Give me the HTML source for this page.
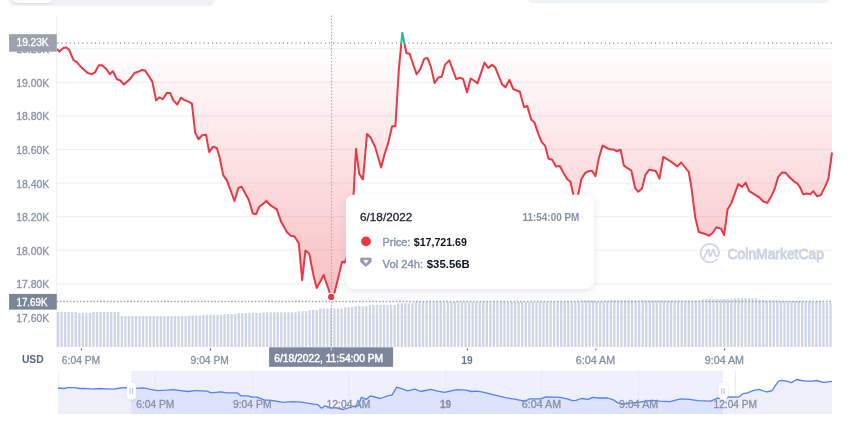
<!DOCTYPE html>
<html><head><meta charset="utf-8"><title>Chart</title>
<style>
html,body{margin:0;padding:0;background:#fff;width:850px;height:426px;overflow:hidden;}
svg{display:block;font-family:"Liberation Sans", sans-serif;will-change:transform;}
</style></head><body>
<svg width="850" height="426" viewBox="0 0 850 426">
<defs>
<linearGradient id="rg" x1="0" y1="43.6" x2="0" y2="297" gradientUnits="userSpaceOnUse">
<stop offset="0" stop-color="#EA3943" stop-opacity="0.0"/>
<stop offset="1" stop-color="#EA3943" stop-opacity="0.32"/>
</linearGradient>
<linearGradient id="gg" x1="0" y1="43.6" x2="0" y2="30" gradientUnits="userSpaceOnUse">
<stop offset="0" stop-color="#16C784" stop-opacity="0.0"/>
<stop offset="1" stop-color="#16C784" stop-opacity="0.3"/>
</linearGradient>
<clipPath id="below"><rect x="0" y="43.6" width="850" height="400"/></clipPath>
<clipPath id="above"><rect x="0" y="0" width="850" height="43.6"/></clipPath>
<filter id="sh" x="-20%" y="-30%" width="140%" height="160%">
<feDropShadow dx="0" dy="2.5" stdDeviation="3.5" flood-color="#58667E" flood-opacity="0.16"/>
</filter>
<filter id="sh2" x="-50%" y="-50%" width="200%" height="200%">
<feDropShadow dx="0" dy="0.4" stdDeviation="0.9" flood-color="#000" flood-opacity="0.15"/>
</filter>
</defs>

<rect x="8.5" y="-10" width="206.5" height="15.8" rx="6" fill="#EFF2F5"/>
<rect x="13.4" y="-10" width="39.2" height="12.9" rx="5" fill="#fff" filter="url(#sh2)"/>
<rect x="527.0" y="-10" width="303.4" height="12.9" rx="6" fill="#EFF2F5"/>
<line x1="57" y1="48.7" x2="832.5" y2="48.7" stroke="#EFF2F5" stroke-width="1.2"/>
<line x1="57" y1="82.3" x2="832.5" y2="82.3" stroke="#EFF2F5" stroke-width="1.2"/>
<line x1="57" y1="115.9" x2="832.5" y2="115.9" stroke="#EFF2F5" stroke-width="1.2"/>
<line x1="57" y1="149.5" x2="832.5" y2="149.5" stroke="#EFF2F5" stroke-width="1.2"/>
<line x1="57" y1="183.1" x2="832.5" y2="183.1" stroke="#EFF2F5" stroke-width="1.2"/>
<line x1="57" y1="216.7" x2="832.5" y2="216.7" stroke="#EFF2F5" stroke-width="1.2"/>
<line x1="57" y1="250.2" x2="832.5" y2="250.2" stroke="#EFF2F5" stroke-width="1.2"/>
<line x1="57" y1="283.8" x2="832.5" y2="283.8" stroke="#EFF2F5" stroke-width="1.2"/>
<line x1="57" y1="317.4" x2="832.5" y2="317.4" stroke="#EFF2F5" stroke-width="1.2"/>
<line x1="56.6" y1="16" x2="56.6" y2="347.5" stroke="#EFF2F5" stroke-width="1.2"/>
<path d="M56.90 312.0h2.3V346.9h-2.3zM60.44 312.0h2.3V346.9h-2.3zM63.99 312.0h2.3V346.9h-2.3zM67.53 312.0h2.3V346.9h-2.3zM71.07 312.0h2.3V346.9h-2.3zM74.62 312.0h2.3V346.9h-2.3zM78.16 312.9h2.3V346.9h-2.3zM81.70 312.9h2.3V346.9h-2.3zM85.25 312.9h2.3V346.9h-2.3zM88.79 312.9h2.3V346.9h-2.3zM92.33 312.0h2.3V346.9h-2.3zM95.88 312.0h2.3V346.9h-2.3zM99.42 312.0h2.3V346.9h-2.3zM102.96 312.0h2.3V346.9h-2.3zM106.51 312.0h2.3V346.9h-2.3zM110.05 312.0h2.3V346.9h-2.3zM113.59 312.0h2.3V346.9h-2.3zM117.14 312.0h2.3V346.9h-2.3zM120.68 316.3h2.3V346.9h-2.3zM124.22 316.3h2.3V346.9h-2.3zM127.77 316.3h2.3V346.9h-2.3zM131.31 316.3h2.3V346.9h-2.3zM134.85 316.3h2.3V346.9h-2.3zM138.40 316.3h2.3V346.9h-2.3zM141.94 316.3h2.3V346.9h-2.3zM145.48 316.3h2.3V346.9h-2.3zM149.03 316.3h2.3V346.9h-2.3zM152.57 316.3h2.3V346.9h-2.3zM156.11 316.3h2.3V346.9h-2.3zM159.66 316.3h2.3V346.9h-2.3zM163.20 316.3h2.3V346.9h-2.3zM166.74 316.3h2.3V346.9h-2.3zM170.29 316.3h2.3V346.9h-2.3zM173.83 316.3h2.3V346.9h-2.3zM177.37 316.3h2.3V346.9h-2.3zM180.92 316.3h2.3V346.9h-2.3zM184.46 316.3h2.3V346.9h-2.3zM188.01 315.6h2.3V346.9h-2.3zM191.55 315.6h2.3V346.9h-2.3zM195.09 315.6h2.3V346.9h-2.3zM198.64 315.6h2.3V346.9h-2.3zM202.18 314.7h2.3V346.9h-2.3zM205.72 314.7h2.3V346.9h-2.3zM209.27 314.7h2.3V346.9h-2.3zM212.81 314.7h2.3V346.9h-2.3zM216.35 314.7h2.3V346.9h-2.3zM219.90 314.7h2.3V346.9h-2.3zM223.44 314.0h2.3V346.9h-2.3zM226.98 314.0h2.3V346.9h-2.3zM230.53 314.0h2.3V346.9h-2.3zM234.07 314.0h2.3V346.9h-2.3zM237.61 313.1h2.3V346.9h-2.3zM241.16 313.1h2.3V346.9h-2.3zM244.70 313.1h2.3V346.9h-2.3zM248.24 313.1h2.3V346.9h-2.3zM251.79 313.1h2.3V346.9h-2.3zM255.33 313.1h2.3V346.9h-2.3zM258.87 313.1h2.3V346.9h-2.3zM262.42 312.2h2.3V346.9h-2.3zM265.96 312.2h2.3V346.9h-2.3zM269.50 312.2h2.3V346.9h-2.3zM273.05 312.2h2.3V346.9h-2.3zM276.59 312.2h2.3V346.9h-2.3zM280.13 312.2h2.3V346.9h-2.3zM283.68 312.2h2.3V346.9h-2.3zM287.22 312.2h2.3V346.9h-2.3zM290.76 312.2h2.3V346.9h-2.3zM294.31 312.2h2.3V346.9h-2.3zM297.85 311.2h2.3V346.9h-2.3zM301.39 311.2h2.3V346.9h-2.3zM304.94 311.2h2.3V346.9h-2.3zM308.48 310.0h2.3V346.9h-2.3zM312.02 310.0h2.3V346.9h-2.3zM315.57 310.0h2.3V346.9h-2.3zM319.11 308.5h2.3V346.9h-2.3zM322.65 308.5h2.3V346.9h-2.3zM326.20 308.5h2.3V346.9h-2.3zM329.74 308.5h2.3V346.9h-2.3zM333.28 308.5h2.3V346.9h-2.3zM336.83 308.5h2.3V346.9h-2.3zM340.37 308.5h2.3V346.9h-2.3zM343.91 307.2h2.3V346.9h-2.3zM347.46 307.2h2.3V346.9h-2.3zM351.00 307.2h2.3V346.9h-2.3zM354.54 306.2h2.3V346.9h-2.3zM358.09 306.2h2.3V346.9h-2.3zM361.63 306.2h2.3V346.9h-2.3zM365.17 306.2h2.3V346.9h-2.3zM368.72 305.0h2.3V346.9h-2.3zM372.26 305.0h2.3V346.9h-2.3zM375.80 305.0h2.3V346.9h-2.3zM379.35 305.0h2.3V346.9h-2.3zM382.89 305.0h2.3V346.9h-2.3zM386.43 305.0h2.3V346.9h-2.3zM389.98 305.0h2.3V346.9h-2.3zM393.52 305.0h2.3V346.9h-2.3zM397.06 303.2h2.3V346.9h-2.3zM400.61 303.2h2.3V346.9h-2.3zM404.15 303.2h2.3V346.9h-2.3zM407.69 303.2h2.3V346.9h-2.3zM411.24 303.2h2.3V346.9h-2.3zM414.78 302.0h2.3V346.9h-2.3zM418.32 302.0h2.3V346.9h-2.3zM421.87 302.0h2.3V346.9h-2.3zM425.41 302.0h2.3V346.9h-2.3zM428.95 302.0h2.3V346.9h-2.3zM432.50 302.0h2.3V346.9h-2.3zM436.04 302.0h2.3V346.9h-2.3zM439.58 302.0h2.3V346.9h-2.3zM443.13 302.0h2.3V346.9h-2.3zM446.67 302.0h2.3V346.9h-2.3zM450.22 302.0h2.3V346.9h-2.3zM453.76 302.0h2.3V346.9h-2.3zM457.30 302.0h2.3V346.9h-2.3zM460.85 302.0h2.3V346.9h-2.3zM464.39 302.0h2.3V346.9h-2.3zM467.93 302.0h2.3V346.9h-2.3zM471.48 302.0h2.3V346.9h-2.3zM475.02 302.0h2.3V346.9h-2.3zM478.56 302.0h2.3V346.9h-2.3zM482.11 302.0h2.3V346.9h-2.3zM485.65 302.0h2.3V346.9h-2.3zM489.19 302.0h2.3V346.9h-2.3zM492.74 302.0h2.3V346.9h-2.3zM496.28 302.0h2.3V346.9h-2.3zM499.82 302.0h2.3V346.9h-2.3zM503.37 302.0h2.3V346.9h-2.3zM506.91 302.0h2.3V346.9h-2.3zM510.45 302.0h2.3V346.9h-2.3zM514.00 302.0h2.3V346.9h-2.3zM517.54 302.0h2.3V346.9h-2.3zM521.08 302.0h2.3V346.9h-2.3zM524.63 302.0h2.3V346.9h-2.3zM528.17 302.0h2.3V346.9h-2.3zM531.71 302.0h2.3V346.9h-2.3zM535.26 302.0h2.3V346.9h-2.3zM538.80 302.0h2.3V346.9h-2.3zM542.34 302.0h2.3V346.9h-2.3zM545.89 302.0h2.3V346.9h-2.3zM549.43 302.0h2.3V346.9h-2.3zM552.97 302.0h2.3V346.9h-2.3zM556.52 302.0h2.3V346.9h-2.3zM560.06 302.0h2.3V346.9h-2.3zM563.60 302.0h2.3V346.9h-2.3zM567.15 302.0h2.3V346.9h-2.3zM570.69 302.0h2.3V346.9h-2.3zM574.23 302.0h2.3V346.9h-2.3zM577.78 302.0h2.3V346.9h-2.3zM581.32 300.6h2.3V346.9h-2.3zM584.86 300.6h2.3V346.9h-2.3zM588.41 300.6h2.3V346.9h-2.3zM591.95 300.6h2.3V346.9h-2.3zM595.49 301.5h2.3V346.9h-2.3zM599.04 301.5h2.3V346.9h-2.3zM602.58 301.5h2.3V346.9h-2.3zM606.12 301.5h2.3V346.9h-2.3zM609.67 300.2h2.3V346.9h-2.3zM613.21 300.2h2.3V346.9h-2.3zM616.75 300.2h2.3V346.9h-2.3zM620.30 300.2h2.3V346.9h-2.3zM623.84 300.2h2.3V346.9h-2.3zM627.38 300.2h2.3V346.9h-2.3zM630.93 300.6h2.3V346.9h-2.3zM634.47 300.6h2.3V346.9h-2.3zM638.01 300.6h2.3V346.9h-2.3zM641.56 300.6h2.3V346.9h-2.3zM645.10 300.6h2.3V346.9h-2.3zM648.64 300.6h2.3V346.9h-2.3zM652.19 300.6h2.3V346.9h-2.3zM655.73 300.6h2.3V346.9h-2.3zM659.27 300.6h2.3V346.9h-2.3zM662.82 300.6h2.3V346.9h-2.3zM666.36 300.6h2.3V346.9h-2.3zM669.90 300.6h2.3V346.9h-2.3zM673.45 300.6h2.3V346.9h-2.3zM676.99 300.6h2.3V346.9h-2.3zM680.53 300.6h2.3V346.9h-2.3zM684.08 300.6h2.3V346.9h-2.3zM687.62 300.6h2.3V346.9h-2.3zM691.16 300.6h2.3V346.9h-2.3zM694.71 300.6h2.3V346.9h-2.3zM698.25 300.6h2.3V346.9h-2.3zM701.79 299.3h2.3V346.9h-2.3zM705.34 299.3h2.3V346.9h-2.3zM708.88 299.3h2.3V346.9h-2.3zM712.43 299.3h2.3V346.9h-2.3zM715.97 299.3h2.3V346.9h-2.3zM719.51 299.3h2.3V346.9h-2.3zM723.06 299.3h2.3V346.9h-2.3zM726.60 299.3h2.3V346.9h-2.3zM730.14 299.3h2.3V346.9h-2.3zM733.69 298.2h2.3V346.9h-2.3zM737.23 298.2h2.3V346.9h-2.3zM740.77 298.2h2.3V346.9h-2.3zM744.32 298.2h2.3V346.9h-2.3zM747.86 298.2h2.3V346.9h-2.3zM751.40 298.2h2.3V346.9h-2.3zM754.95 298.2h2.3V346.9h-2.3zM758.49 299.7h2.3V346.9h-2.3zM762.03 299.7h2.3V346.9h-2.3zM765.58 300.6h2.3V346.9h-2.3zM769.12 300.6h2.3V346.9h-2.3zM772.66 300.6h2.3V346.9h-2.3zM776.21 300.6h2.3V346.9h-2.3zM779.75 301.1h2.3V346.9h-2.3zM783.29 301.1h2.3V346.9h-2.3zM786.84 301.1h2.3V346.9h-2.3zM790.38 301.1h2.3V346.9h-2.3zM793.92 301.1h2.3V346.9h-2.3zM797.47 301.1h2.3V346.9h-2.3zM801.01 301.5h2.3V346.9h-2.3zM804.55 301.5h2.3V346.9h-2.3zM808.10 301.5h2.3V346.9h-2.3zM811.64 301.5h2.3V346.9h-2.3zM815.18 301.5h2.3V346.9h-2.3zM818.73 301.5h2.3V346.9h-2.3zM822.27 302.7h2.3V346.9h-2.3zM825.81 302.7h2.3V346.9h-2.3zM829.36 302.7h2.3V346.9h-2.3z" fill="#CED5E4"/>
<polygon points="57.0,43.6 57.0,49.0 59.4,51.6 63.6,47.8 66.4,47.6 69.2,50.0 73.5,60.0 77.0,62.4 80.5,66.4 87.6,73.0 91.8,74.1 95.0,72.3 98.8,65.2 102.1,65.2 105.9,68.7 109.9,74.1 112.9,71.3 116.9,79.3 120.4,80.5 123.9,84.5 129.8,79.3 134.5,73.0 138.0,71.8 142.0,69.9 145.0,70.4 148.6,75.8 152.3,81.6 156.1,100.4 159.2,97.4 162.7,99.2 166.9,92.9 170.2,92.9 173.2,100.0 177.2,104.6 181.0,97.7 184.1,99.8 188.5,101.7 191.9,103.6 195.1,132.4 198.4,139.3 202.2,135.2 206.0,134.8 209.2,152.1 212.9,146.8 216.7,148.0 219.5,156.8 223.2,175.1 226.9,180.3 234.5,201.0 238.2,188.2 241.6,186.7 248.6,199.5 252.9,213.6 256.1,214.2 259.3,206.7 266.5,201.0 270.2,205.2 276.8,209.3 281.2,222.1 287.2,232.5 290.9,235.7 294.6,236.4 298.8,243.5 302.2,280.2 305.4,250.5 309.2,253.5 313.5,275.5 316.7,288.1 323.7,275.0 329.3,291.5 331.2,297.0 334.6,292.5 342.1,261.8 344.9,262.4 349.0,250.0 352.0,225.0 356.0,148.8 359.2,173.9 363.0,179.3 367.0,134.0 370.5,137.5 375.2,146.9 381.1,167.6 384.6,154.0 388.1,143.4 392.1,126.3 395.4,126.3 398.8,70.2 402.3,32.8 404.5,43.8 406.4,53.2 409.7,53.8 413.5,65.5 416.7,74.3 420.5,68.7 424.2,58.9 427.4,57.9 430.8,66.4 434.6,83.0 438.7,77.3 441.7,76.8 444.9,64.9 449.3,60.4 456.2,79.0 460.0,77.7 463.2,79.2 467.0,92.4 470.7,78.6 474.1,80.5 477.5,83.4 484.5,62.6 488.2,67.9 492.0,64.9 495.2,67.4 502.2,84.6 505.6,87.2 509.4,80.0 513.2,89.0 519.8,91.7 524.1,107.3 527.3,106.0 531.1,119.5 534.4,122.4 538.6,134.6 541.8,142.1 545.2,145.9 548.5,158.8 552.2,159.8 556.0,166.4 559.8,166.0 563.5,172.9 567.3,179.2 570.5,181.8 574.0,198.0 577.3,199.0 581.3,179.2 585.2,172.9 588.9,171.1 592.3,171.1 595.5,176.1 598.7,158.8 602.5,145.6 607.8,148.5 610.6,149.4 613.8,149.4 616.8,151.3 620.6,149.8 623.8,165.4 627.5,168.2 631.3,170.5 635.1,188.0 638.3,191.8 642.0,188.6 645.4,174.8 649.2,169.7 655.8,171.1 659.5,178.6 663.3,156.9 671.8,162.2 677.4,166.4 681.2,162.5 688.8,172.0 691.7,189.3 695.2,217.4 698.8,232.0 704.6,233.8 709.3,235.7 712.8,232.7 716.4,227.3 721.1,228.7 724.1,235.0 727.6,209.2 731.1,203.8 738.2,184.1 742.2,186.9 745.7,182.7 749.2,191.1 758.6,196.8 763.3,201.5 767.3,202.9 771.0,196.8 775.0,188.1 778.1,177.1 782.1,172.4 785.6,172.8 790.3,178.0 794.5,181.8 797.3,183.4 799.6,186.5 803.2,194.4 806.7,193.5 810.2,194.4 813.3,191.1 817.2,196.3 820.8,195.1 824.3,188.1 828.3,179.4 832.0,152.5 832.0,43.6" fill="url(#rg)" clip-path="url(#below)"/>
<polygon points="57.0,43.6 57.0,49.0 59.4,51.6 63.6,47.8 66.4,47.6 69.2,50.0 73.5,60.0 77.0,62.4 80.5,66.4 87.6,73.0 91.8,74.1 95.0,72.3 98.8,65.2 102.1,65.2 105.9,68.7 109.9,74.1 112.9,71.3 116.9,79.3 120.4,80.5 123.9,84.5 129.8,79.3 134.5,73.0 138.0,71.8 142.0,69.9 145.0,70.4 148.6,75.8 152.3,81.6 156.1,100.4 159.2,97.4 162.7,99.2 166.9,92.9 170.2,92.9 173.2,100.0 177.2,104.6 181.0,97.7 184.1,99.8 188.5,101.7 191.9,103.6 195.1,132.4 198.4,139.3 202.2,135.2 206.0,134.8 209.2,152.1 212.9,146.8 216.7,148.0 219.5,156.8 223.2,175.1 226.9,180.3 234.5,201.0 238.2,188.2 241.6,186.7 248.6,199.5 252.9,213.6 256.1,214.2 259.3,206.7 266.5,201.0 270.2,205.2 276.8,209.3 281.2,222.1 287.2,232.5 290.9,235.7 294.6,236.4 298.8,243.5 302.2,280.2 305.4,250.5 309.2,253.5 313.5,275.5 316.7,288.1 323.7,275.0 329.3,291.5 331.2,297.0 334.6,292.5 342.1,261.8 344.9,262.4 349.0,250.0 352.0,225.0 356.0,148.8 359.2,173.9 363.0,179.3 367.0,134.0 370.5,137.5 375.2,146.9 381.1,167.6 384.6,154.0 388.1,143.4 392.1,126.3 395.4,126.3 398.8,70.2 402.3,32.8 404.5,43.8 406.4,53.2 409.7,53.8 413.5,65.5 416.7,74.3 420.5,68.7 424.2,58.9 427.4,57.9 430.8,66.4 434.6,83.0 438.7,77.3 441.7,76.8 444.9,64.9 449.3,60.4 456.2,79.0 460.0,77.7 463.2,79.2 467.0,92.4 470.7,78.6 474.1,80.5 477.5,83.4 484.5,62.6 488.2,67.9 492.0,64.9 495.2,67.4 502.2,84.6 505.6,87.2 509.4,80.0 513.2,89.0 519.8,91.7 524.1,107.3 527.3,106.0 531.1,119.5 534.4,122.4 538.6,134.6 541.8,142.1 545.2,145.9 548.5,158.8 552.2,159.8 556.0,166.4 559.8,166.0 563.5,172.9 567.3,179.2 570.5,181.8 574.0,198.0 577.3,199.0 581.3,179.2 585.2,172.9 588.9,171.1 592.3,171.1 595.5,176.1 598.7,158.8 602.5,145.6 607.8,148.5 610.6,149.4 613.8,149.4 616.8,151.3 620.6,149.8 623.8,165.4 627.5,168.2 631.3,170.5 635.1,188.0 638.3,191.8 642.0,188.6 645.4,174.8 649.2,169.7 655.8,171.1 659.5,178.6 663.3,156.9 671.8,162.2 677.4,166.4 681.2,162.5 688.8,172.0 691.7,189.3 695.2,217.4 698.8,232.0 704.6,233.8 709.3,235.7 712.8,232.7 716.4,227.3 721.1,228.7 724.1,235.0 727.6,209.2 731.1,203.8 738.2,184.1 742.2,186.9 745.7,182.7 749.2,191.1 758.6,196.8 763.3,201.5 767.3,202.9 771.0,196.8 775.0,188.1 778.1,177.1 782.1,172.4 785.6,172.8 790.3,178.0 794.5,181.8 797.3,183.4 799.6,186.5 803.2,194.4 806.7,193.5 810.2,194.4 813.3,191.1 817.2,196.3 820.8,195.1 824.3,188.1 828.3,179.4 832.0,152.5 832.0,43.6" fill="url(#gg)" clip-path="url(#above)"/>
<line x1="57" y1="43.1" x2="832.5" y2="43.1" stroke="#A0A7B6" stroke-width="1.8" stroke-dasharray="1 3.18" stroke-dashoffset="-0.3"/>
<line x1="57" y1="301.5" x2="832.5" y2="301.5" stroke="#A2AABB" stroke-width="1.3" stroke-dasharray="1.7 1.66" stroke-dashoffset="0.6"/>
<line x1="331.5" y1="15.6" x2="331.5" y2="346.8" stroke="#A3ACC0" stroke-width="1.15" stroke-dasharray="1.4 1.85"/>
<polyline points="57.0,49.0 59.4,51.6 63.6,47.8 66.4,47.6 69.2,50.0 73.5,60.0 77.0,62.4 80.5,66.4 87.6,73.0 91.8,74.1 95.0,72.3 98.8,65.2 102.1,65.2 105.9,68.7 109.9,74.1 112.9,71.3 116.9,79.3 120.4,80.5 123.9,84.5 129.8,79.3 134.5,73.0 138.0,71.8 142.0,69.9 145.0,70.4 148.6,75.8 152.3,81.6 156.1,100.4 159.2,97.4 162.7,99.2 166.9,92.9 170.2,92.9 173.2,100.0 177.2,104.6 181.0,97.7 184.1,99.8 188.5,101.7 191.9,103.6 195.1,132.4 198.4,139.3 202.2,135.2 206.0,134.8 209.2,152.1 212.9,146.8 216.7,148.0 219.5,156.8 223.2,175.1 226.9,180.3 234.5,201.0 238.2,188.2 241.6,186.7 248.6,199.5 252.9,213.6 256.1,214.2 259.3,206.7 266.5,201.0 270.2,205.2 276.8,209.3 281.2,222.1 287.2,232.5 290.9,235.7 294.6,236.4 298.8,243.5 302.2,280.2 305.4,250.5 309.2,253.5 313.5,275.5 316.7,288.1 323.7,275.0 329.3,291.5 331.2,297.0 334.6,292.5 342.1,261.8 344.9,262.4 349.0,250.0 352.0,225.0 356.0,148.8 359.2,173.9 363.0,179.3 367.0,134.0 370.5,137.5 375.2,146.9 381.1,167.6 384.6,154.0 388.1,143.4 392.1,126.3 395.4,126.3 398.8,70.2 402.3,32.8 404.5,43.8 406.4,53.2 409.7,53.8 413.5,65.5 416.7,74.3 420.5,68.7 424.2,58.9 427.4,57.9 430.8,66.4 434.6,83.0 438.7,77.3 441.7,76.8 444.9,64.9 449.3,60.4 456.2,79.0 460.0,77.7 463.2,79.2 467.0,92.4 470.7,78.6 474.1,80.5 477.5,83.4 484.5,62.6 488.2,67.9 492.0,64.9 495.2,67.4 502.2,84.6 505.6,87.2 509.4,80.0 513.2,89.0 519.8,91.7 524.1,107.3 527.3,106.0 531.1,119.5 534.4,122.4 538.6,134.6 541.8,142.1 545.2,145.9 548.5,158.8 552.2,159.8 556.0,166.4 559.8,166.0 563.5,172.9 567.3,179.2 570.5,181.8 574.0,198.0 577.3,199.0 581.3,179.2 585.2,172.9 588.9,171.1 592.3,171.1 595.5,176.1 598.7,158.8 602.5,145.6 607.8,148.5 610.6,149.4 613.8,149.4 616.8,151.3 620.6,149.8 623.8,165.4 627.5,168.2 631.3,170.5 635.1,188.0 638.3,191.8 642.0,188.6 645.4,174.8 649.2,169.7 655.8,171.1 659.5,178.6 663.3,156.9 671.8,162.2 677.4,166.4 681.2,162.5 688.8,172.0 691.7,189.3 695.2,217.4 698.8,232.0 704.6,233.8 709.3,235.7 712.8,232.7 716.4,227.3 721.1,228.7 724.1,235.0 727.6,209.2 731.1,203.8 738.2,184.1 742.2,186.9 745.7,182.7 749.2,191.1 758.6,196.8 763.3,201.5 767.3,202.9 771.0,196.8 775.0,188.1 778.1,177.1 782.1,172.4 785.6,172.8 790.3,178.0 794.5,181.8 797.3,183.4 799.6,186.5 803.2,194.4 806.7,193.5 810.2,194.4 813.3,191.1 817.2,196.3 820.8,195.1 824.3,188.1 828.3,179.4 832.0,152.5" fill="none" stroke="#EA3943" stroke-width="2" stroke-linejoin="round" clip-path="url(#below)"/>
<polyline points="57.0,49.0 59.4,51.6 63.6,47.8 66.4,47.6 69.2,50.0 73.5,60.0 77.0,62.4 80.5,66.4 87.6,73.0 91.8,74.1 95.0,72.3 98.8,65.2 102.1,65.2 105.9,68.7 109.9,74.1 112.9,71.3 116.9,79.3 120.4,80.5 123.9,84.5 129.8,79.3 134.5,73.0 138.0,71.8 142.0,69.9 145.0,70.4 148.6,75.8 152.3,81.6 156.1,100.4 159.2,97.4 162.7,99.2 166.9,92.9 170.2,92.9 173.2,100.0 177.2,104.6 181.0,97.7 184.1,99.8 188.5,101.7 191.9,103.6 195.1,132.4 198.4,139.3 202.2,135.2 206.0,134.8 209.2,152.1 212.9,146.8 216.7,148.0 219.5,156.8 223.2,175.1 226.9,180.3 234.5,201.0 238.2,188.2 241.6,186.7 248.6,199.5 252.9,213.6 256.1,214.2 259.3,206.7 266.5,201.0 270.2,205.2 276.8,209.3 281.2,222.1 287.2,232.5 290.9,235.7 294.6,236.4 298.8,243.5 302.2,280.2 305.4,250.5 309.2,253.5 313.5,275.5 316.7,288.1 323.7,275.0 329.3,291.5 331.2,297.0 334.6,292.5 342.1,261.8 344.9,262.4 349.0,250.0 352.0,225.0 356.0,148.8 359.2,173.9 363.0,179.3 367.0,134.0 370.5,137.5 375.2,146.9 381.1,167.6 384.6,154.0 388.1,143.4 392.1,126.3 395.4,126.3 398.8,70.2 402.3,32.8 404.5,43.8 406.4,53.2 409.7,53.8 413.5,65.5 416.7,74.3 420.5,68.7 424.2,58.9 427.4,57.9 430.8,66.4 434.6,83.0 438.7,77.3 441.7,76.8 444.9,64.9 449.3,60.4 456.2,79.0 460.0,77.7 463.2,79.2 467.0,92.4 470.7,78.6 474.1,80.5 477.5,83.4 484.5,62.6 488.2,67.9 492.0,64.9 495.2,67.4 502.2,84.6 505.6,87.2 509.4,80.0 513.2,89.0 519.8,91.7 524.1,107.3 527.3,106.0 531.1,119.5 534.4,122.4 538.6,134.6 541.8,142.1 545.2,145.9 548.5,158.8 552.2,159.8 556.0,166.4 559.8,166.0 563.5,172.9 567.3,179.2 570.5,181.8 574.0,198.0 577.3,199.0 581.3,179.2 585.2,172.9 588.9,171.1 592.3,171.1 595.5,176.1 598.7,158.8 602.5,145.6 607.8,148.5 610.6,149.4 613.8,149.4 616.8,151.3 620.6,149.8 623.8,165.4 627.5,168.2 631.3,170.5 635.1,188.0 638.3,191.8 642.0,188.6 645.4,174.8 649.2,169.7 655.8,171.1 659.5,178.6 663.3,156.9 671.8,162.2 677.4,166.4 681.2,162.5 688.8,172.0 691.7,189.3 695.2,217.4 698.8,232.0 704.6,233.8 709.3,235.7 712.8,232.7 716.4,227.3 721.1,228.7 724.1,235.0 727.6,209.2 731.1,203.8 738.2,184.1 742.2,186.9 745.7,182.7 749.2,191.1 758.6,196.8 763.3,201.5 767.3,202.9 771.0,196.8 775.0,188.1 778.1,177.1 782.1,172.4 785.6,172.8 790.3,178.0 794.5,181.8 797.3,183.4 799.6,186.5 803.2,194.4 806.7,193.5 810.2,194.4 813.3,191.1 817.2,196.3 820.8,195.1 824.3,188.1 828.3,179.4 832.0,152.5" fill="none" stroke="#16C784" stroke-width="2" stroke-linejoin="round" clip-path="url(#above)"/>
<circle cx="331.2" cy="297" r="3.8" fill="#EA3943" stroke="#fff" stroke-width="1.3"/>
<text x="49.2" y="53.2" font-size="10.8" fill="#8A94A9" stroke="#8A94A9" stroke-width="0.35" text-anchor="end" textLength="33" lengthAdjust="spacingAndGlyphs">19.20K</text>
<text x="49.2" y="86.8" font-size="10.8" fill="#8A94A9" stroke="#8A94A9" stroke-width="0.35" text-anchor="end" textLength="33" lengthAdjust="spacingAndGlyphs">19.00K</text>
<text x="49.2" y="120.4" font-size="10.8" fill="#8A94A9" stroke="#8A94A9" stroke-width="0.35" text-anchor="end" textLength="33" lengthAdjust="spacingAndGlyphs">18.80K</text>
<text x="49.2" y="154.0" font-size="10.8" fill="#8A94A9" stroke="#8A94A9" stroke-width="0.35" text-anchor="end" textLength="33" lengthAdjust="spacingAndGlyphs">18.60K</text>
<text x="49.2" y="187.6" font-size="10.8" fill="#8A94A9" stroke="#8A94A9" stroke-width="0.35" text-anchor="end" textLength="33" lengthAdjust="spacingAndGlyphs">18.40K</text>
<text x="49.2" y="221.2" font-size="10.8" fill="#8A94A9" stroke="#8A94A9" stroke-width="0.35" text-anchor="end" textLength="33" lengthAdjust="spacingAndGlyphs">18.20K</text>
<text x="49.2" y="254.7" font-size="10.8" fill="#8A94A9" stroke="#8A94A9" stroke-width="0.35" text-anchor="end" textLength="33" lengthAdjust="spacingAndGlyphs">18.00K</text>
<text x="49.2" y="288.3" font-size="10.8" fill="#8A94A9" stroke="#8A94A9" stroke-width="0.35" text-anchor="end" textLength="33" lengthAdjust="spacingAndGlyphs">17.80K</text>
<text x="49.2" y="321.9" font-size="10.8" fill="#8A94A9" stroke="#8A94A9" stroke-width="0.35" text-anchor="end" textLength="33" lengthAdjust="spacingAndGlyphs">17.60K</text>
<rect x="9.1" y="34.2" width="47.7" height="17.5" fill="#9BA1AE"/>
<text x="16.5" y="46.0" font-size="10.3" fill="#fff" stroke="#fff" stroke-width="0.35" textLength="32.1" lengthAdjust="spacingAndGlyphs">19.23K</text>
<rect x="9.1" y="293.9" width="47.7" height="15.7" fill="#7C869B"/>
<text x="16.5" y="305.9" font-size="10.3" fill="#fff" stroke="#fff" stroke-width="0.35" textLength="30.9" lengthAdjust="spacingAndGlyphs">17.69K</text>
<g fill="none" stroke="#CFD5E4" stroke-width="1.8" stroke-linecap="round" stroke-linejoin="round"><path d="M719.1 252.5 A9.2 9.2 0 1 0 716.6 259.5"/><path d="M704.1 258 L707.5 250.3 Q708.2 249 708.8 250.5 L709.6 255.5 Q710.1 257.2 710.8 255.5 L712.7 250.5 Q713.3 249.3 713.9 250.8 L715.1 254.8 Q716.6 257.6 718.5 255.3 Q719.3 254 719.1 252.5"/></g>
<text x="727.6" y="258.5" font-size="14" fill="#CDD3E3" stroke="#CDD3E3" stroke-width="0.9" textLength="96.3" lengthAdjust="spacingAndGlyphs">CoinMarketCap</text>
<rect x="345.9" y="194.7" width="248" height="94" rx="8" fill="#fff" filter="url(#sh)"/>
<text x="360.1" y="220.9" font-size="11.5" fill="#222531" stroke="#222531" stroke-width="0.3" textLength="52.1" lengthAdjust="spacingAndGlyphs">6/18/2022</text>
<text x="522.6" y="220.7" font-size="10.6" font-weight="bold" fill="#858FA4" textLength="56.7" lengthAdjust="spacingAndGlyphs">11:54:00 PM</text>
<circle cx="366" cy="241.4" r="4.9" fill="#EA3943"/>
<text x="382.6" y="245.6" font-size="11" fill="#8492AE" stroke="#8492AE" stroke-width="0.4" textLength="27.7" lengthAdjust="spacingAndGlyphs">Price:</text>
<text x="413.8" y="245.6" font-size="11" font-weight="bold" fill="#0D1421" textLength="53" lengthAdjust="spacingAndGlyphs">$17,721.69</text>
<path d="M360.7 258.1 H371.1 V262 L365.9 266.6 L360.7 262 Z" fill="#8F9BB5" stroke="#8F9BB5" stroke-width="0.8" stroke-linejoin="round"/>
<path d="M363.5 260.3 H368.3 L365.9 263.4 Z" fill="#fff" stroke="#fff" stroke-width="0.5" stroke-linejoin="round"/>
<text x="382.6" y="268.1" font-size="11" fill="#8492AE" stroke="#8492AE" stroke-width="0.4" textLength="40.6" lengthAdjust="spacingAndGlyphs">Vol 24h:</text>
<text x="426.8" y="268.1" font-size="11" font-weight="bold" fill="#0D1421" textLength="42.9" lengthAdjust="spacingAndGlyphs">$35.56B</text>
<line x1="81.4" y1="348.3" x2="81.4" y2="350.5" stroke="#58667E" stroke-width="1"/>
<line x1="210.6" y1="348.3" x2="210.6" y2="350.5" stroke="#58667E" stroke-width="1"/>
<line x1="467.4" y1="348.3" x2="467.4" y2="350.5" stroke="#58667E" stroke-width="1"/>
<line x1="595.9" y1="348.3" x2="595.9" y2="350.5" stroke="#58667E" stroke-width="1"/>
<line x1="724.6" y1="348.3" x2="724.6" y2="350.5" stroke="#58667E" stroke-width="1"/>
<text x="81.0" y="364.1" font-size="10.6" fill="#858FA3" stroke="#858FA3" stroke-width="0.3" text-anchor="middle" textLength="38.4" lengthAdjust="spacingAndGlyphs">6:04 PM</text>
<text x="209.7" y="364.1" font-size="10.6" fill="#858FA3" stroke="#858FA3" stroke-width="0.3" text-anchor="middle" textLength="38.2" lengthAdjust="spacingAndGlyphs">9:04 PM</text>
<text x="467.0" y="364.1" font-size="10.5" font-weight="bold" fill="#6B768D" text-anchor="middle" textLength="11.3" lengthAdjust="spacingAndGlyphs">19</text>
<text x="595.5" y="364.1" font-size="10.6" fill="#858FA3" stroke="#858FA3" stroke-width="0.3" text-anchor="middle" textLength="39.3" lengthAdjust="spacingAndGlyphs">6:04 AM</text>
<text x="724.4" y="364.1" font-size="10.6" fill="#858FA3" stroke="#858FA3" stroke-width="0.3" text-anchor="middle" textLength="39.3" lengthAdjust="spacingAndGlyphs">9:04 AM</text>
<text x="21.9" y="363.1" font-size="10.5" font-weight="bold" fill="#58667E" textLength="21.8" lengthAdjust="spacingAndGlyphs">USD</text>
<rect x="269.1" y="347.3" width="124" height="19.5" fill="#7C869B"/>
<line x1="331.3" y1="347.3" x2="331.3" y2="350.8" stroke="#C9CED9" stroke-width="1"/>
<text x="274.2" y="361.5" font-size="11.3" fill="#fff" stroke="#fff" stroke-width="0.5" textLength="109" lengthAdjust="spacingAndGlyphs">6/18/2022, 11:54:00 PM</text>
<rect x="131.2" y="370.8" width="591.7" height="43.099999999999966" fill="#EEF1FD"/>
<clipPath id="sel"><rect x="131.2" y="370.8" width="591.7" height="43.099999999999966"/></clipPath>
<polygon points="57.9,413.9 57.9,388.0 64.1,388.5 67.6,387.6 74.7,387.6 80.0,388.5 85.3,388.3 92.4,389.2 99.4,388.5 106.5,388.8 113.5,389.2 120.6,388.0 125.9,387.6 136.5,388.3 143.5,387.9 150.6,389.4 157.6,390.6 166.5,390.2 173.5,389.7 180.6,390.6 187.6,391.5 194.7,390.6 197.0,390.6 206.8,391.1 211.2,392.9 220.9,391.8 227.0,392.9 237.6,392.9 241.2,395.9 248.2,395.9 251.8,397.1 257.1,397.1 264.1,399.9 272.9,400.6 283.5,402.4 292.3,401.7 301.2,402.1 313.5,404.2 317.9,404.7 321.5,408.2 325.0,405.9 331.2,408.2 335.3,407.7 343.2,409.5 347.6,408.2 352.9,406.5 358.2,405.9 361.4,397.3 366.2,399.4 370.2,395.9 380.3,398.5 389.1,395.4 391.8,395.4 396.7,387.1 402.3,388.8 407.6,390.9 414.7,389.2 420.9,391.5 430.6,389.4 437.6,391.1 444.7,392.4 450.0,391.1 457.1,389.7 465.9,390.1 471.2,391.5 477.1,391.1 484.1,392.4 492.9,394.6 505.3,397.6 515.9,399.4 524.7,401.2 530.0,398.9 540.6,398.9 545.9,396.8 560.0,397.3 567.1,398.9 572.4,400.6 575.9,400.3 581.2,398.5 588.2,399.4 592.6,397.3 598.8,398.0 607.6,398.0 613.5,399.9 617.9,402.9 624.1,404.2 631.2,402.9 638.2,402.4 645.3,401.2 652.4,400.3 659.4,401.2 670.0,401.7 680.6,398.9 689.4,399.4 698.2,400.6 710.6,401.2 717.6,398.2 722.9,398.5 730.0,396.8 738.8,397.1 743.2,393.6 747.6,392.9 752.9,390.6 759.1,389.4 766.7,392.0 772.0,390.6 778.5,381.2 782.1,380.4 787.4,381.4 791.4,382.6 796.7,379.5 801.5,380.5 805.9,381.2 812.9,381.2 816.5,380.5 823.5,382.3 832.0,381.4 832.0,413.9" fill="#EDF0FB"/>
<polygon points="57.9,413.9 57.9,388.0 64.1,388.5 67.6,387.6 74.7,387.6 80.0,388.5 85.3,388.3 92.4,389.2 99.4,388.5 106.5,388.8 113.5,389.2 120.6,388.0 125.9,387.6 136.5,388.3 143.5,387.9 150.6,389.4 157.6,390.6 166.5,390.2 173.5,389.7 180.6,390.6 187.6,391.5 194.7,390.6 197.0,390.6 206.8,391.1 211.2,392.9 220.9,391.8 227.0,392.9 237.6,392.9 241.2,395.9 248.2,395.9 251.8,397.1 257.1,397.1 264.1,399.9 272.9,400.6 283.5,402.4 292.3,401.7 301.2,402.1 313.5,404.2 317.9,404.7 321.5,408.2 325.0,405.9 331.2,408.2 335.3,407.7 343.2,409.5 347.6,408.2 352.9,406.5 358.2,405.9 361.4,397.3 366.2,399.4 370.2,395.9 380.3,398.5 389.1,395.4 391.8,395.4 396.7,387.1 402.3,388.8 407.6,390.9 414.7,389.2 420.9,391.5 430.6,389.4 437.6,391.1 444.7,392.4 450.0,391.1 457.1,389.7 465.9,390.1 471.2,391.5 477.1,391.1 484.1,392.4 492.9,394.6 505.3,397.6 515.9,399.4 524.7,401.2 530.0,398.9 540.6,398.9 545.9,396.8 560.0,397.3 567.1,398.9 572.4,400.6 575.9,400.3 581.2,398.5 588.2,399.4 592.6,397.3 598.8,398.0 607.6,398.0 613.5,399.9 617.9,402.9 624.1,404.2 631.2,402.9 638.2,402.4 645.3,401.2 652.4,400.3 659.4,401.2 670.0,401.7 680.6,398.9 689.4,399.4 698.2,400.6 710.6,401.2 717.6,398.2 722.9,398.5 730.0,396.8 738.8,397.1 743.2,393.6 747.6,392.9 752.9,390.6 759.1,389.4 766.7,392.0 772.0,390.6 778.5,381.2 782.1,380.4 787.4,381.4 791.4,382.6 796.7,379.5 801.5,380.5 805.9,381.2 812.9,381.2 816.5,380.5 823.5,382.3 832.0,381.4 832.0,413.9" fill="#DDE3FA" clip-path="url(#sel)"/>
<line x1="155.5" y1="370.8" x2="155.5" y2="413.9" stroke="#E5E9F2" stroke-width="1"/>
<line x1="252.6" y1="370.8" x2="252.6" y2="413.9" stroke="#E5E9F2" stroke-width="1"/>
<line x1="348.5" y1="370.8" x2="348.5" y2="413.9" stroke="#E5E9F2" stroke-width="1"/>
<line x1="445.6" y1="370.8" x2="445.6" y2="413.9" stroke="#E5E9F2" stroke-width="1"/>
<line x1="541.5" y1="370.8" x2="541.5" y2="413.9" stroke="#E5E9F2" stroke-width="1"/>
<line x1="638.6" y1="370.8" x2="638.6" y2="413.9" stroke="#E5E9F2" stroke-width="1"/>
<line x1="735.3" y1="370.8" x2="735.3" y2="413.9" stroke="#E5E9F2" stroke-width="1"/>
<line x1="58.6" y1="370.8" x2="58.6" y2="413.9" stroke="#EFF2F5" stroke-width="1"/>
<polyline points="57.9,388.0 64.1,388.5 67.6,387.6 74.7,387.6 80.0,388.5 85.3,388.3 92.4,389.2 99.4,388.5 106.5,388.8 113.5,389.2 120.6,388.0 125.9,387.6 136.5,388.3 143.5,387.9 150.6,389.4 157.6,390.6 166.5,390.2 173.5,389.7 180.6,390.6 187.6,391.5 194.7,390.6 197.0,390.6 206.8,391.1 211.2,392.9 220.9,391.8 227.0,392.9 237.6,392.9 241.2,395.9 248.2,395.9 251.8,397.1 257.1,397.1 264.1,399.9 272.9,400.6 283.5,402.4 292.3,401.7 301.2,402.1 313.5,404.2 317.9,404.7 321.5,408.2 325.0,405.9 331.2,408.2 335.3,407.7 343.2,409.5 347.6,408.2 352.9,406.5 358.2,405.9 361.4,397.3 366.2,399.4 370.2,395.9 380.3,398.5 389.1,395.4 391.8,395.4 396.7,387.1 402.3,388.8 407.6,390.9 414.7,389.2 420.9,391.5 430.6,389.4 437.6,391.1 444.7,392.4 450.0,391.1 457.1,389.7 465.9,390.1 471.2,391.5 477.1,391.1 484.1,392.4 492.9,394.6 505.3,397.6 515.9,399.4 524.7,401.2 530.0,398.9 540.6,398.9 545.9,396.8 560.0,397.3 567.1,398.9 572.4,400.6 575.9,400.3 581.2,398.5 588.2,399.4 592.6,397.3 598.8,398.0 607.6,398.0 613.5,399.9 617.9,402.9 624.1,404.2 631.2,402.9 638.2,402.4 645.3,401.2 652.4,400.3 659.4,401.2 670.0,401.7 680.6,398.9 689.4,399.4 698.2,400.6 710.6,401.2 717.6,398.2 722.9,398.5 730.0,396.8 738.8,397.1 743.2,393.6 747.6,392.9 752.9,390.6 759.1,389.4 766.7,392.0 772.0,390.6 778.5,381.2 782.1,380.4 787.4,381.4 791.4,382.6 796.7,379.5 801.5,380.5 805.9,381.2 812.9,381.2 816.5,380.5 823.5,382.3 832.0,381.4" fill="none" stroke="#5381F6" stroke-width="1.3" stroke-linejoin="round"/>
<text x="155.3" y="407.6" font-size="10.5" fill="#878FA4" stroke="#878FA4" stroke-width="0.3" text-anchor="middle" textLength="38.2" lengthAdjust="spacingAndGlyphs">6:04 PM</text>
<text x="252.3" y="407.6" font-size="10.5" fill="#878FA4" stroke="#878FA4" stroke-width="0.3" text-anchor="middle" textLength="38.8" lengthAdjust="spacingAndGlyphs">9:04 PM</text>
<text x="348.5" y="407.6" font-size="10.5" fill="#878FA4" stroke="#878FA4" stroke-width="0.3" text-anchor="middle" textLength="44" lengthAdjust="spacingAndGlyphs">12:04 AM</text>
<text x="445.6" y="407.6" font-size="10.5" font-weight="bold" fill="#878FA4" stroke="#878FA4" stroke-width="0.3" text-anchor="middle" textLength="11.3" lengthAdjust="spacingAndGlyphs">19</text>
<text x="541.5" y="407.6" font-size="10.5" fill="#878FA4" stroke="#878FA4" stroke-width="0.3" text-anchor="middle" textLength="39.3" lengthAdjust="spacingAndGlyphs">6:04 AM</text>
<text x="638.6" y="407.6" font-size="10.5" fill="#878FA4" stroke="#878FA4" stroke-width="0.3" text-anchor="middle" textLength="39.3" lengthAdjust="spacingAndGlyphs">9:04 AM</text>
<text x="735.3" y="407.6" font-size="10.5" fill="#878FA4" stroke="#878FA4" stroke-width="0.3" text-anchor="middle" textLength="43.5" lengthAdjust="spacingAndGlyphs">12:04 PM</text>
<rect x="126.8" y="382.6" width="9.4" height="17.2" rx="4.5" fill="#fff" filter="url(#sh2)"/>
<line x1="130.0" y1="388.2" x2="130.0" y2="393.8" stroke="#AEB5C4" stroke-width="0.9"/>
<line x1="132.4" y1="388.2" x2="132.4" y2="393.8" stroke="#AEB5C4" stroke-width="0.9"/>
<rect x="718.5" y="382.6" width="9.4" height="17.2" rx="4.5" fill="#fff" filter="url(#sh2)"/>
<line x1="721.7" y1="388.2" x2="721.7" y2="393.8" stroke="#AEB5C4" stroke-width="0.9"/>
<line x1="724.1" y1="388.2" x2="724.1" y2="393.8" stroke="#AEB5C4" stroke-width="0.9"/>
</svg>
</body></html>
